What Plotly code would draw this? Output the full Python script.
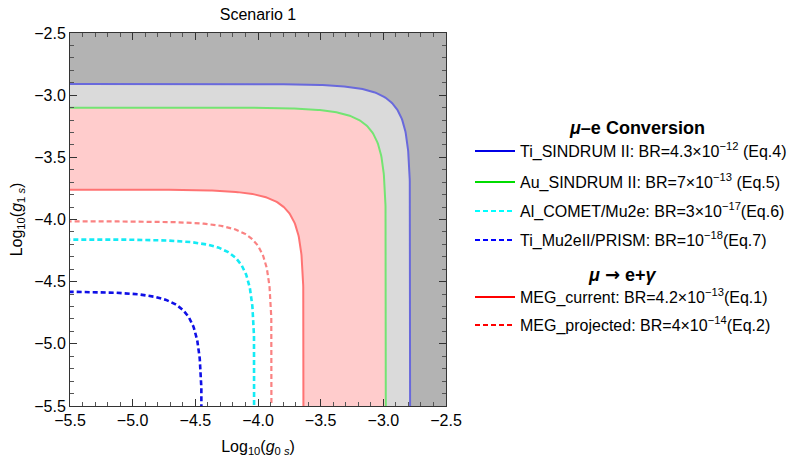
import numpy as np
import plotly.graph_objects as go

# ---- data (asymptotic limits of each contour) ----
names = [
    "Ti_SINDRUM II: BR=4.3×10<sup>−12</sup> (Eq.4)",
    "Au_SINDRUM II: BR=7×10<sup>−13</sup> (Eq.5)",
    "Al_COMET/Mu2e: BR=3×10<sup>−17</sup>(Eq.6)",
    "Ti_Mu2eII/PRISM: BR=10<sup>−18</sup>(Eq.7)",
    "MEG_current: BR=4.2×10<sup>−13</sup>(Eq.1)",
    "MEG_projected: BR=4×10<sup>−14</sup>(Eq.2)",
]
g0_limit = [-2.783, -2.977, -4.026, -4.446, -3.633, -3.888]   # log10(g0s) where the curve becomes vertical
g1_limit = [-2.91, -3.10, -4.16, -4.58, -3.76, -4.015]        # log10(g1s) where the curve becomes horizontal
group_titles = ["<b><i>μ</i>–e Conversion</b>",
                "<b><i>μ</i> <span style=\"font-family:DejaVu Sans\">→</span> e+<i>γ</i></b>"]

# styles
plot_line_colors = ["rgb(105,105,220)", "rgb(115,228,115)", "rgb(20,235,245)",
                    "rgb(15,15,230)", "rgb(255,115,115)", "rgb(250,130,130)"]
legend_colors = ["rgb(0,0,230)", "rgb(0,220,0)", "rgb(0,255,255)",
                 "rgb(0,0,255)", "rgb(255,0,0)", "rgb(255,0,0)"]
dashes = ["solid", "solid", "5px,3px", "5px,3px", "solid", "5px,3px"]
widths = [2, 2, 2.6, 2.6, 2, 2.2]
fill_colors = {0: "#dadada", 1: "#ffcccc", 4: "#ffffff"}

# layout geometry (pixels)
W, H = 800, 462
L, R, T, B = 70, 446, 33, 406
legend_rows = [151, 182, 211, 240, 297, 325]
title_rows = [128, 274]
title_cx = [637, 622]


def px_x(p):
    return (p - L) / (R - L)


def px_y(p):
    return 1 - (p - T) / (B - T)


def contour_curve(x0, y0):
    # contour of a*g0^2 + b*g1^2 = BR in log-log space
    s = np.linspace(-5, 5, 600)
    th = np.arctan(10 ** s)
    x = x0 + np.log10(np.cos(th))
    y = y0 + np.log10(np.sin(th))
    return x, y


fig = go.Figure()

# filled regions (outer to inner)
for i in [0, 1, 4]:
    x, y = contour_curve(g0_limit[i], g1_limit[i])
    xs = np.concatenate([x, [-12.0]])
    ys = np.concatenate([y, [-12.0]])
    fig.add_trace(go.Scatter(x=xs, y=ys, mode="lines", fill="toself",
                             fillcolor=fill_colors[i], line=dict(width=0),
                             showlegend=False, hoverinfo="skip"))

# contour lines
for i in [4, 1, 0, 5, 2, 3]:
    x, y = contour_curve(g0_limit[i], g1_limit[i])
    fig.add_trace(go.Scatter(x=x, y=y, mode="lines",
                             line=dict(color=plot_line_colors[i], width=widths[i], dash=dashes[i]),
                             showlegend=False, hoverinfo="skip"))

font = "Liberation Sans, Arial, sans-serif"

# legend entries, one small legend per row for exact spacing
legend_layout = {}
for i in range(6):
    key = "legend" if i == 0 else f"legend{i + 1}"
    fig.add_trace(go.Scatter(x=[None], y=[None], mode="lines", name=names[i],
                             legend=key,
                             line=dict(color=legend_colors[i], width=2, dash=dashes[i])))
    legend_layout[key] = dict(x=px_x(470), xanchor="left", y=px_y(legend_rows[i]), yanchor="middle",
                              font=dict(size=16, family=font, color="black"), itemwidth=40,
                              bgcolor="rgba(0,0,0,0)", borderwidth=0)

axis_common = dict(
    range=[-5.5, -2.5], dtick=0.5, tick0=-5.5, tickformat=".1f",
    ticks="inside", ticklen=7, tickwidth=1, tickcolor="#333",
    minor=dict(dtick=0.1, ticks="inside", ticklen=4, tickcolor="#555", tickwidth=1),
    showline=True, linecolor="#333", linewidth=1, mirror="allticks",
    showgrid=False, zeroline=False, automargin=False,
    tickfont=dict(size=16, color="black", family=font),
)

fig.update_layout(
    width=W, height=H,
    margin=dict(l=L, r=W - R, t=T, b=H - B, autoexpand=False),
    plot_bgcolor="#b3b3b3", paper_bgcolor="white",
    font=dict(family=font, size=16, color="black"),
    title=dict(text="Scenario 1", x=0.5, xref="paper", y=1 - 14 / H, yanchor="middle",
               font=dict(size=16, family=font, color="black")),
    xaxis=dict(**axis_common,
               title=dict(text="Log<sub>10</sub>(<i>g</i><sub>0 <i>s</i></sub>)", standoff=12,
                          font=dict(size=16, family=font))),
    yaxis=dict(**axis_common,
               title=dict(text="Log<sub>10</sub>(<i>g</i><sub>1 <i>s</i></sub>)", standoff=7,
                          font=dict(size=16, family=font))),
    showlegend=True,
    **legend_layout,
)

for t, cy, cx in zip(group_titles, title_rows, title_cx):
    fig.add_annotation(text=t, xref="paper", yref="paper",
                       x=px_x(cx), y=px_y(cy), showarrow=False,
                       xanchor="center", yanchor="middle", font=dict(size=18, family=font))

fig.write_html("out.html", config={"displayModeBar": False},
               post_script="document.body.style.margin='0';")
